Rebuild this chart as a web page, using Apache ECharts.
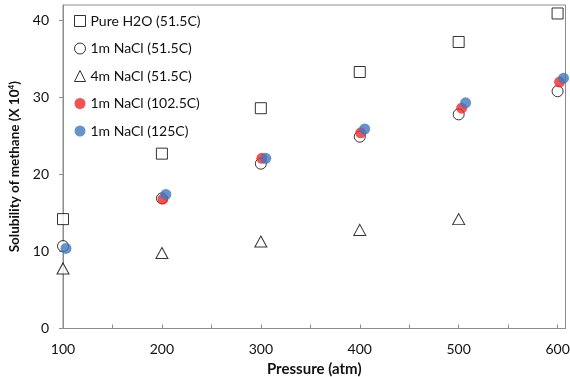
<!DOCTYPE html>
<html><head><meta charset="utf-8">
<script src="https://cdn.jsdelivr.net/npm/echarts@6/dist/echarts.min.js"></script>
<style>html,body{margin:0;padding:0;background:#fff}#c{width:570px;height:377px}</style>
</head><body><div id="c"></div>
<script>
// Data (pressure atm, solubility x10^4)
const seriesNames = ['Pure H2O (51.5C)', '1m NaCl (51.5C)', '4m NaCl (51.5C)', '1m NaCl (102.5C)', '1m NaCl (125C)'];
const pureH2O = [[100, 14.2], [200, 22.7], [300, 28.6], [400, 33.3], [500, 37.2], [600, 40.9]];
const nacl1m_515 = [[100, 10.7], [200, 16.9], [300, 21.4], [400, 24.9], [500, 27.8], [600, 30.8]];
const nacl4m_515 = [[100, 7.8], [200, 9.8], [300, 11.3], [400, 12.8], [500, 14.2]];
const nacl1m_1025 = [[201, 16.8], [301, 22.1], [401, 25.4], [503, 28.6], [602, 32.0]];
const nacl1m_125 = [[103, 10.4], [204, 17.4], [305, 22.1], [405, 25.9], [507, 29.3], [606, 32.5]];
const xLabels = [100, 200, 300, 400, 500, 600];
const xTicks = [100, 150, 200, 250, 300, 350, 400, 450, 500, 550, 600];
const yLabels = [0, 10, 20, 30, 40];

const FONT = 'Lato, "Liberation Sans", sans-serif';
const chart = echarts.init(document.getElementById('c'), null, {renderer: 'canvas'});
const open = {color: '#fff', borderColor: '#000', borderWidth: 1};
chart.setOption({
  animation: false,
  textStyle: {fontFamily: FONT},
  grid: {left: 63, right: 4.5, top: 5, bottom: 48.5, show: true, borderColor: '#8c8c8c', borderWidth: 1, containLabel: false, outerBoundsMode: 'none'},
  legend: {
    show: true, orient: 'vertical', left: 69, top: 9,
    itemWidth: 11, itemHeight: 11, itemGap: 13.5, itemStyle: {borderWidth: 1},
    textStyle: {fontFamily: FONT, fontSize: 14, color: '#111', lineHeight: 14},
    data: seriesNames
  },
  xAxis: {
    type: 'value', min: 100, max: 608,
    axisLine: {show: true, lineStyle: {color: '#8c8c8c'}},
    axisTick: {show: true, inside: true, length: 4, customValues: xTicks, lineStyle: {color: '#8c8c8c'}},
    axisLabel: {customValues: xLabels, fontSize: 14, color: '#111', margin: 14, fontFamily: FONT},
    splitLine: {show: false},
    name: 'Pressure (atm)', nameLocation: 'middle', nameGap: 29,
    nameTextStyle: {fontSize: 15, fontWeight: 'bold', color: '#111', fontFamily: FONT}
  },
  yAxis: {
    type: 'value', min: 0, max: 42,
    axisLine: {show: true, lineStyle: {color: '#8c8c8c'}},
    axisTick: {show: true, inside: false, length: 4, customValues: yLabels, lineStyle: {color: '#8c8c8c'}},
    axisLabel: {customValues: yLabels, fontSize: 14, color: '#111', margin: 14, fontFamily: FONT},
    splitLine: {show: false},
    name: '{a|Solubility of methane (X 10}{s|4}{a|)}', nameLocation: 'middle', nameGap: 37,
    nameTextStyle: {
      rich: {
        a: {fontSize: 13.5, fontWeight: 'bold', color: '#111', fontFamily: FONT},
        s: {fontSize: 8, fontWeight: 'bold', color: '#111', fontFamily: FONT, verticalAlign: 'top', padding: [0, 0, 6, 0]}
      }
    }
  },
  series: [
    {name: seriesNames[0], type: 'scatter', data: pureH2O, symbol: 'rect', symbolSize: 11, itemStyle: open},
    {name: seriesNames[1], type: 'scatter', data: nacl1m_515, symbol: 'circle', symbolSize: 11, itemStyle: open},
    {name: seriesNames[2], type: 'scatter', data: nacl4m_515, symbol: 'triangle', symbolSize: [12, 11], itemStyle: open},
    {name: seriesNames[3], type: 'scatter', data: nacl1m_1025, symbol: 'circle', symbolSize: 11, itemStyle: {color: '#EC2A2A'}},
    {name: seriesNames[4], type: 'scatter', data: nacl1m_125, symbol: 'circle', symbolSize: 11, itemStyle: {color: '#4178BE'}}
  ]
});
</script></body></html>
